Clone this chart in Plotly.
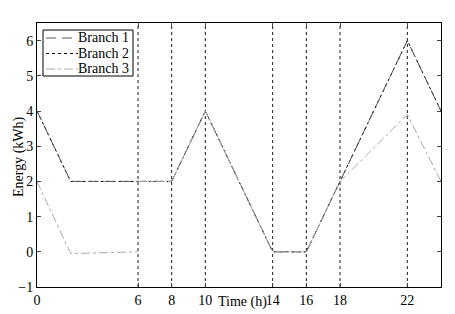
import plotly.graph_objects as go

hours = [0, 2, 8, 10, 14, 16, 22, 24]
branch1 = [4, 2, 2, 4, 0, 0, 6, 4]
branch2 = [4, 2, 2, 4, 0, 0, 6, 4]
hours3 = [0, 2, 6, None, 6, 8, 10, 14, 16, 18, 22, 24]
branch3 = [2, -0.05, 0, None, 2, 2, 4, 0, 0, 2, 3.9, 2]
vlines = [6, 8, 10, 14, 16, 18, 22]
xticks = [0, 6, 8, 10, 14, 16, 18, 22]
yticks = [-1, 0, 1, 2, 3, 4, 5, 6]
names = ["Branch 1", "Branch 2", "Branch 3"]

FAM = "Liberation Serif, Times New Roman, serif"
fnt = dict(family=FAM, size=14, color="black")

W, H = 455, 314
L, R, T, B = 37, 14, 23, 27
pw, ph = W - L - R, H - T - B

def px(x):
    return (x - L) / pw

def py(y):
    return (H - B - y) / ph

styles = [
    dict(color="#555555", width=1, dash="10px,6px"),
    dict(color="black", width=1, dash="dot"),
    dict(color="#aaaaaa", width=1, dash="dashdot"),
]

fig = go.Figure()
for v in vlines:
    fig.add_trace(go.Scatter(x=[v, v], y=[-1, 6.5], mode="lines",
                             line=dict(color="black", width=0.9, dash="dot"),
                             showlegend=False, hoverinfo="skip"))
fig.add_trace(go.Scatter(x=hours, y=branch2, mode="lines", name=names[1],
                         line=styles[1], showlegend=False))
fig.add_trace(go.Scatter(x=hours, y=branch1, mode="lines", name=names[0],
                         line=styles[0], showlegend=False))
fig.add_trace(go.Scatter(x=hours3, y=branch3, mode="lines", name=names[2],
                         line=styles[2], showlegend=False, connectgaps=False))

# legend box (MATLAB style)
fig.add_shape(type="rect", xref="paper", yref="paper",
              x0=px(43), x1=px(133), y0=py(76), y1=py(30),
              line=dict(color="black", width=1), fillcolor="white", layer="above")
rows = [38, 53.5, 69]
for nm, st, ry in zip(names, styles, rows):
    fig.add_shape(type="line", xref="paper", yref="paper",
                  x0=px(46), x1=px(78), y0=py(ry), y1=py(ry),
                  line=st, layer="above")
    fig.add_annotation(text=nm, xref="paper", yref="paper", x=px(131), y=py(ry),
                       xanchor="right", yanchor="middle", showarrow=False,
                       font=fnt)

fig.add_annotation(text="Energy (kWh)", xref="paper", yref="paper",
                   x=px(19), y=py(157), textangle=-90, showarrow=False,
                   xanchor="center", yanchor="middle", font=fnt)
fig.add_annotation(text="Time (h)", xref="paper", yref="paper",
                   x=px(242), y=py(302), showarrow=False,
                   xanchor="center", yanchor="middle", font=fnt)

fig.update_layout(
    width=W, height=H,
    margin=dict(l=L, r=R, t=T, b=B, autoexpand=False),
    paper_bgcolor="white", plot_bgcolor="white",
    font=fnt, showlegend=False,
)
fig.update_xaxes(range=[0, 24], tickvals=xticks, ticks="inside", ticklen=4,
                 showline=True, linecolor="black", linewidth=1, mirror="ticks",
                 showgrid=False, zeroline=False, tickfont=fnt, automargin=False)
fig.update_yaxes(range=[-1, 6.5], tickvals=yticks, ticks="inside", ticklen=4,
                 showline=True, linecolor="black", linewidth=1, mirror="ticks",
                 showgrid=False, zeroline=False, tickfont=fnt, automargin=False,
                 ticklabelstandoff=0)

fig.write_html("out.html")
